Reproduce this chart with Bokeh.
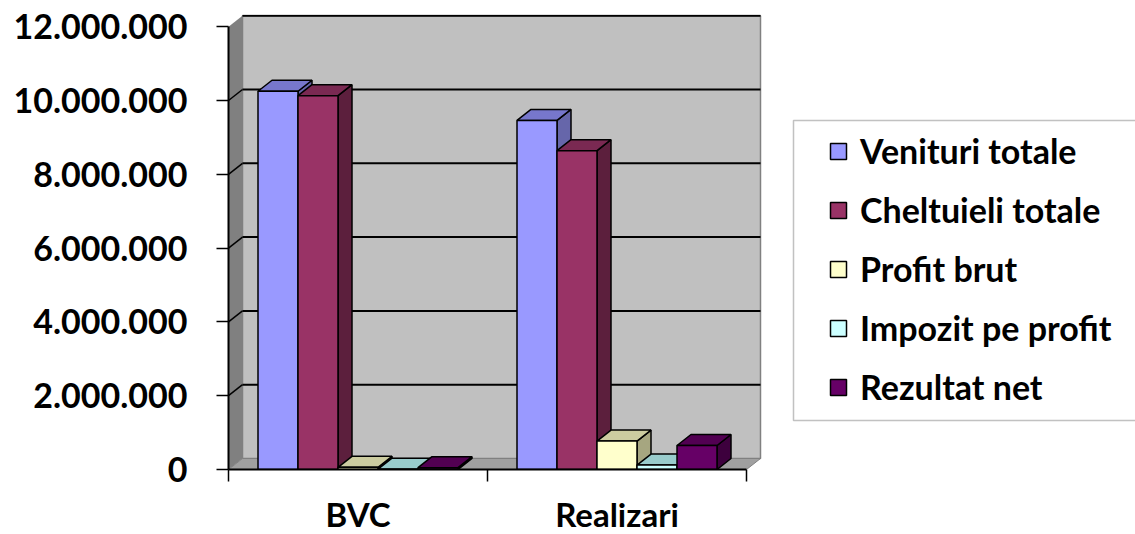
from bokeh.plotting import figure
from bokeh.models import (Range1d, FixedTicker, ColumnDataSource, Legend, LegendItem,
                          BoxAnnotation)
from bokeh.embed import file_html
from bokeh.resources import INLINE

# ---------------- data ----------------
categories = ["BVC", "Realizari"]
series_names = ["Venituri totale", "Cheltuieli totale", "Profit brut",
                "Impozit pe profit", "Rezultat net"]
venituri_totale = [10250000, 9460000]
cheltuieli_totale = [10130000, 8640000]
profit_brut = [60000, 770000]
impozit_pe_profit = [10000, 120000]
rezultat_net = [50000, 650000]
y_ticks = [0, 2000000, 4000000, 6000000, 8000000, 10000000, 12000000]
y_tick_labels = ["0", "2.000.000", "4.000.000", "6.000.000", "8.000.000",
                 "10.000.000", "12.000.000"]

front_colors = ["#9999FF", "#993366", "#FFFFCC", "#CCFFFF", "#660066"]
top_colors = ["#7777CC", "#7A2952", "#CCCCA0", "#99CCCC", "#520052"]
side_colors = ["#6666AA", "#5C1F3D", "#A6A680", "#7FA8A8", "#3D003D"]

# ---------------- layout constants ----------------
PX_X = 259.0            # pixels per category
PX_Y = 36.9 / 1e6       # pixels per unit value
LEFT_B, TOP_B, BOTTOM_B = 228, 14, 65
FRAME_W, FRAME_H = 1135 - LEFT_B, 455
DX = 14 / PX_X          # 3D depth offsets
DY = 11 / PX_Y
BAR_W = 40 / PX_X
FONT = "Lato"

bar_values = [venituri_totale, cheltuieli_totale, profit_brut,
              impozit_pe_profit, rezultat_net]
ncat = len(categories)
nser = len(bar_values)
group_off = (1 - nser * BAR_W) / 2

p = figure(frame_width=FRAME_W, frame_height=FRAME_H,
           x_range=Range1d(0, FRAME_W / PX_X), y_range=Range1d(0, FRAME_H / PX_Y),
           output_backend="svg", toolbar_location=None,
           min_border_left=LEFT_B, min_border_top=TOP_B, min_border_right=0,
           min_border_bottom=BOTTOM_B, background_fill_color="white",
           border_fill_color="white", outline_line_color=None)
p.xgrid.visible = False
p.ygrid.visible = False

# ---------------- walls ----------------
wall_top = y_ticks[-1]
p.patch([DX, ncat + DX, ncat + DX, DX], [DY, DY, wall_top + DY, wall_top + DY],
        fill_color="#C0C0C0", line_color="#808080", line_width=1.5)
p.patch([0, DX, DX, 0], [0, DY, wall_top + DY, wall_top],
        fill_color="#808080", line_color=None)
p.patch([0, ncat, ncat + DX, DX], [0, 0, DY, DY],
        fill_color="#A0A0A0", line_color="#808080", line_width=1)

gv = y_ticks[1:]
p.segment(x0=[DX] * len(gv), x1=[ncat + DX] * len(gv),
          y0=[v + DY for v in gv], y1=[v + DY for v in gv],
          line_color="black", line_width=2)
sv = y_ticks[1:-1]
p.segment(x0=[0] * len(sv), x1=[DX] * len(sv),
          y0=sv, y1=[v + DY for v in sv], line_color="black", line_width=1.5)

# ---------------- bars ----------------
items = []
for i, (name, vals) in enumerate(zip(series_names, bar_values)):
    left = [j + group_off + i * BAR_W for j in range(ncat)]
    right = [l + BAR_W for l in left]
    xs, ys, cols = [], [], []
    for l, r, h in zip(left, right, vals):
        xs.append([r, r + DX, r + DX, r]); ys.append([0, DY, h + DY, h]); cols.append(side_colors[i])
        xs.append([l, r, r + DX, l + DX]); ys.append([h, h, h + DY, h + DY]); cols.append(top_colors[i])
    fsrc = ColumnDataSource(dict(xs=xs, ys=ys, color=cols))
    p.patches(xs="xs", ys="ys", fill_color="color", source=fsrc,
              line_color="black", line_width=1.5)
    src = ColumnDataSource(dict(left=left, right=right, top=vals, bottom=[0] * ncat))
    rq = p.quad(left="left", right="right", top="top", bottom="bottom", source=src,
                fill_color=front_colors[i], line_color="black", line_width=1.5)
    items.append(LegendItem(label=name, renderers=[rq]))

# ---------------- axes ----------------
yax = p.yaxis[0]
yax.ticker = FixedTicker(ticks=y_ticks)
yax.major_label_overrides = dict(zip(y_ticks, y_tick_labels))
yax.bounds = (y_ticks[0], y_ticks[-1])
yax.axis_line_color = "black"
yax.axis_line_width = 2
yax.major_tick_out = 12
yax.major_tick_in = 0
yax.major_tick_line_color = "black"
yax.major_tick_line_width = 1.5
yax.minor_tick_line_color = None
yax.major_label_text_font = FONT
yax.major_label_text_font_style = "bold"
yax.major_label_text_font_size = "34px"
yax.major_label_text_color = "black"
yax.major_label_standoff = 29

cat_centers = [j + 0.5 for j in range(ncat)]
xax = p.xaxis[0]
xax.ticker = FixedTicker(ticks=cat_centers, minor_ticks=list(range(ncat + 1)))
xax.major_label_overrides = dict(zip(cat_centers, categories))
xax.bounds = (0, ncat)
xax.axis_line_color = "black"
xax.axis_line_width = 2
xax.major_tick_out = 0
xax.major_tick_in = 0
xax.major_tick_line_color = None
xax.minor_tick_out = 12
xax.minor_tick_in = 0
xax.minor_tick_line_color = "black"
xax.minor_tick_line_width = 1.5
xax.major_label_text_font = FONT
xax.major_label_text_font_style = "bold"
xax.major_label_text_font_size = "33px"
xax.major_label_text_color = "black"
xax.major_label_standoff = 12

# ---------------- legend ----------------
p.add_layout(BoxAnnotation(left=565, right=3000, bottom=49, top=349,
                           left_units="screen", right_units="screen",
                           top_units="screen", bottom_units="screen",
                           fill_color="white", fill_alpha=1,
                           line_color="#333333", line_width=1.5))
legend = Legend(items=items, location=(600, 62), orientation="vertical",
                padding=12, spacing=18, glyph_width=20, glyph_height=20,
                label_standoff=12, label_height=40, margin=0,
                border_line_color=None, background_fill_alpha=0,
                label_text_font=FONT, label_text_font_style="bold",
                label_text_font_size="34px", label_text_color="black")
p.add_layout(legend)

open("out.html", "w").write(file_html(p, INLINE))
